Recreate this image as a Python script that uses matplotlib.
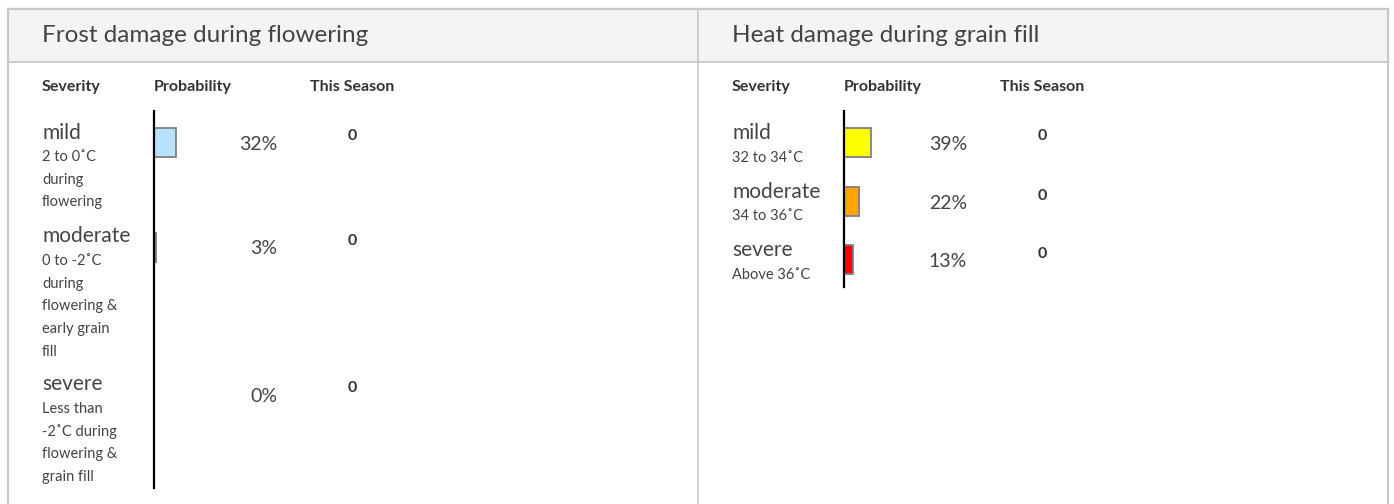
import matplotlib
matplotlib.use("Agg")
import matplotlib.pyplot as plt
from matplotlib.patches import Rectangle

plt.rcParams['font.family'] = ['Lato', 'DejaVu Sans']

# data
frost_title = "Frost damage during flowering"
frost_levels = ["mild", "moderate", "severe"]
frost_notes = [["2 to 0˚C", "during", "flowering"],
               ["0 to -2˚C", "during", "flowering &", "early grain", "fill"],
               ["Less than", "-2˚C during", "flowering &", "grain fill"]]
frost_prob = [32, 3, 0]
frost_season = [0, 0, 0]
frost_colors = ["#b8e0ff", "#b8e0ff", "#b8e0ff"]

heat_title = "Heat damage during grain fill"
heat_levels = ["mild", "moderate", "severe"]
heat_notes = [["32 to 34˚C"], ["34 to 36˚C"], ["Above 36˚C"]]
heat_prob = [39, 22, 13]
heat_season = [0, 0, 0]
heat_colors = ["#ffff00", "#ffa500", "#ff0000"]

headers = ["Severity", "Probability", "This Season"]

W, H = 1394, 504
fig = plt.figure(figsize=(W / 100, H / 100), dpi=100)
bg = fig.add_axes([0, 0, 1, 1])
bg.set_xlim(0, W)
bg.set_ylim(H, 0)
bg.axis("off")

line_c = "#c8c8c8"
# panel frame and header band
bg.add_patch(Rectangle((8, 9), 1380, 53, facecolor="#f4f4f4", edgecolor="none"))
bg.plot([8, 1388], [9, 9], color=line_c, lw=1.6)
bg.plot([8, 1388], [62, 62], color=line_c, lw=1.3)
bg.plot([8, 8], [9, H], color=line_c, lw=1.6)
bg.plot([1388, 1388], [9, H], color=line_c, lw=1.6)
bg.plot([698, 698], [9, H], color=line_c, lw=1.2)


def panel(x0, title, levels, notes, prob, season, colors, row_y, text_y, axis_y):
    bg.text(x0, 36, title, fontsize=17.5, color="#444444", va="center", ha="left")
    for hx, h in zip([x0, x0 + 112, x0 + 268], headers):
        bg.text(hx, 87, h, fontsize=11.5, fontweight="bold", color="#333333", va="center")

    ax0 = x0 + 112
    ax = fig.add_axes([ax0 / W, (H - axis_y[1]) / H, 69 / W, (axis_y[1] - axis_y[0]) / H])
    ax.set_xlim(0, 100)
    ax.set_ylim(axis_y[1], axis_y[0])
    ax.barh(row_y, prob, height=29, color=colors, edgecolor="#808080", linewidth=1.3)
    ax.patch.set_alpha(0)
    for s in ["top", "right", "bottom"]:
        ax.spines[s].set_visible(False)
    ax.spines["left"].set_linewidth(1.6)
    ax.set_xticks([])
    ax.set_yticks([])

    for i, lev in enumerate(levels):
        ty = text_y[i]
        bg.text(x0, ty[0], lev, fontsize=15, color="#444444", va="center")
        for j, n in enumerate(notes[i]):
            bg.text(x0, ty[1] + j * 22.7, n, fontsize=10.5, color="#444444", va="center")
        bg.text(ax0 + 123, row_y[i] + 2, f"{prob[i]}%", fontsize=14, color="#444444",
                va="center", ha="right")
        bg.text(ax0 + 198, row_y[i] - 6, f"{season[i]}", fontsize=11.5, fontweight="bold",
                color="#333333", va="center", ha="center")


panel(42, frost_title, frost_levels, frost_notes, frost_prob, frost_season, frost_colors,
      [142.5, 247, 394.5], [(133, 157), (236, 261), (384, 409)], (111, 488))
panel(732, heat_title, heat_levels, heat_notes, heat_prob, heat_season, heat_colors,
      [142.5, 201.5, 259.5], [(133, 158), (192, 216), (250, 275)], (111, 287))

fig.savefig("out.png", dpi=100)
